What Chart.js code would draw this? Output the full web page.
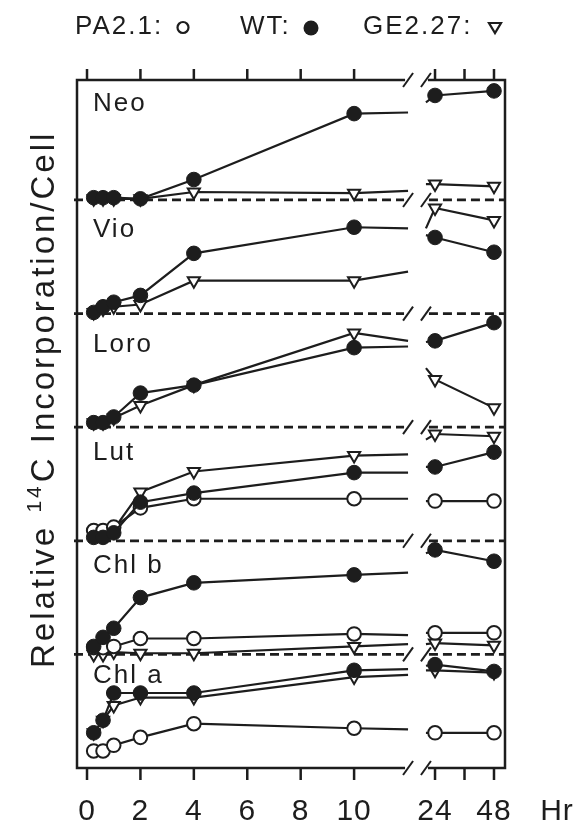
<!DOCTYPE html>
<html>
<head>
<meta charset="utf-8">
<script src="https://cdn.jsdelivr.net/npm/chart.js@4"></script>
<style>
  html, body { margin: 0; padding: 0; background: #fff; }
  canvas { display: block; }
</style>
</head>
<body>
<canvas id="incorpChart" width="574" height="822"></canvas>
<script>
// sampling times (hours)
const hours = [0.25, 0.6, 1, 2, 4, 10, 24, 48];
const tickHours = [0, 2, 4, 6, 8, 10, 24, 36, 48];
const tickLabels = ['0', '2', '4', '6', '8', '10', '24', '48'];

const panels = ['Neo', 'Vio', 'Loro', 'Lut', 'Chl b', 'Chl a'];
const panelOffsets = [500, 400, 300, 200, 100, 0];

// relative 14C incorporation, each panel on its own baseline (100 = one panel)
// *Cut = value where the line leaves 10 h / enters 24 h at the axis break
const neoWT = [2, 2, 2, 1, 18, 76, 92, 96];
const neoWTCut = [77, 86];
const neoGE = [1, 1, 1, 1, 7, 6, 14, 12];
const neoGECut = [8, 14];

const vioWT = [1, 6, 10, 16, 53, 76, 67, 54];
const vioWTCut = [75, 69];
const vioGE = [1, 4, 6, 8, 29, 29, 93, 82];
const vioGECut = [37, 75];

const loroWT = [4, 4, 9, 30, 37, 70, 76, 92];
const loroWTCut = [71, 75];
const loroGE = [4, 4, 8, 19, 37, 83, 42, 17];
const loroGECut = [76, 52];

const lutWT = [3, 3, 7, 34, 42, 60, 65, 78];
const lutWTCut = [60, 65];
const lutGE = [5, 5, 10, 43, 61, 75, 94, 92];
const lutGECut = [76, 89];
const lutPA = [9, 9, 12, 29, 37, 37, 35, 35];
const lutPACut = [37, 35];

const chlbWT = [7, 15, 23, 50, 63, 70, 92, 82];
const chlbWTCut = [72, 89];
const chlbGE = [0, 0, 2, 1, 1, 7, 10, 8];
const chlbGECut = [9, 9];
const chlbPA = [6, 6, 7, 14, 14, 18, 19, 19];
const chlbPACut = [17, 19];

const chlaWT = [31, 42, 66, 66, 66, 86, 91, 85];
const chlaWTCut = [87, 90];
const chlaGE = [31, 42, 55, 62, 62, 80, 86, 84];
const chlaGECut = [82, 86];
const chlaPA = [15, 15, 20, 27, 39, 35, 31, 31];
const chlaPACut = [34, 31];

// broken time axis: 0-12 h linear, then 24-48 h compressed
function hx(h) { return h <= 12 ? h : 13.03 + (h - 24) * 0.092; }
const CUT_L = 12.02, CUT_R = 12.69;

const ink = '#1d1d1d';
const FONT = "'Liberation Sans', Arial, Helvetica, sans-serif";
const labelLift = [78, 67, 66, 71, 72, 75];

const styles = {
    WT: { pointStyle: 'circle', bg: ink, r: 7.3, bw: 1, order: 0 },
    PA: { pointStyle: 'circle', bg: '#fff', r: 6.8, bw: 2, order: 1 },
    GE: { pointStyle: 'triangle', bg: '#fff', r: 7, bw: 2, order: 2 }
};

function series(label, vals, cut, offset, kind) {
    const s = styles[kind];
    const pts = [];
    for (let i = 0; i < 6; i++) pts.push({ x: hx(hours[i]), y: vals[i] + offset });
    pts.push({ x: CUT_L, y: cut[0] + offset });
    pts.push({ x: (CUT_L + CUT_R) / 2, y: null });
    pts.push({ x: CUT_R, y: cut[1] + offset });
    pts.push({ x: hx(hours[6]), y: vals[6] + offset });
    pts.push({ x: hx(hours[7]), y: vals[7] + offset });
    const radii = pts.map((p, i) => (i >= 6 && i <= 8) ? 0 : s.r);
    return {
        label: label,
        data: pts,
        borderColor: ink,
        borderWidth: 2.2,
        pointStyle: s.pointStyle,
        pointRotation: kind === 'GE' ? 180 : 0,
        pointRadius: radii,
        pointBackgroundColor: s.bg,
        pointBorderColor: ink,
        pointBorderWidth: s.bw,
        tension: 0,
        spanGaps: false,
        clip: false,
        order: s.order
    };
}

const datasets = [
    series('Neo WT', neoWT, neoWTCut, 500, 'WT'),
    series('Neo GE2.27', neoGE, neoGECut, 500, 'GE'),
    series('Vio WT', vioWT, vioWTCut, 400, 'WT'),
    series('Vio GE2.27', vioGE, vioGECut, 400, 'GE'),
    series('Loro WT', loroWT, loroWTCut, 300, 'WT'),
    series('Loro GE2.27', loroGE, loroGECut, 300, 'GE'),
    series('Lut WT', lutWT, lutWTCut, 200, 'WT'),
    series('Lut GE2.27', lutGE, lutGECut, 200, 'GE'),
    series('Lut PA2.1', lutPA, lutPACut, 200, 'PA'),
    series('Chl b WT', chlbWT, chlbWTCut, 100, 'WT'),
    series('Chl b GE2.27', chlbGE, chlbGECut, 100, 'GE'),
    series('Chl b PA2.1', chlbPA, chlbPACut, 100, 'PA'),
    series('Chl a WT', chlaWT, chlaWTCut, 0, 'WT'),
    series('Chl a GE2.27', chlaGE, chlaGECut, 0, 'GE'),
    series('Chl a PA2.1', chlaPA, chlaPACut, 0, 'PA')
];

function slash(ctx, cx, cy) {
    ctx.beginPath();
    ctx.moveTo(cx - 5, cy + 7);
    ctx.lineTo(cx + 5, cy - 7);
    ctx.stroke();
}

// frame, broken axes, dashed baselines, labels
const decorations = {
    id: 'decorations',
    beforeDatasetsDraw(chart) {
        const { ctx, chartArea: a, scales: { x, y } } = chart;
        const bl = x.getPixelForValue(CUT_L), br = x.getPixelForValue(CUT_R);
        ctx.save();
        ctx.strokeStyle = ink;
        ctx.fillStyle = ink;
        ctx.lineWidth = 2.5;

        ctx.beginPath();
        ctx.moveTo(bl - 3, a.top); ctx.lineTo(a.left, a.top);
        ctx.lineTo(a.left, a.bottom); ctx.lineTo(bl - 3, a.bottom);
        ctx.moveTo(br + 2, a.top); ctx.lineTo(a.right, a.top);
        ctx.lineTo(a.right, a.bottom); ctx.lineTo(br + 2, a.bottom);
        ctx.stroke();

        // ticks top and bottom
        ctx.beginPath();
        tickHours.forEach(h => {
            const px = x.getPixelForValue(hx(h));
            ctx.moveTo(px, a.top); ctx.lineTo(px, a.top - 11);
            ctx.moveTo(px, a.bottom); ctx.lineTo(px, a.bottom + 12);
        });
        ctx.stroke();

        ctx.lineWidth = 2;
        [a.top, a.bottom].forEach(py => { slash(ctx, bl, py); slash(ctx, br, py); });

        // dashed baselines
        panelOffsets.forEach(off => {
            if (off === 0) return;
            const py = y.getPixelForValue(off);
            ctx.save();
            ctx.lineWidth = 2.8;
            ctx.setLineDash([9, 5]);
            ctx.beginPath();
            ctx.moveTo(a.left - 3, py); ctx.lineTo(bl - 4, py);
            ctx.moveTo(br + 3, py); ctx.lineTo(a.right, py);
            ctx.stroke();
            ctx.restore();
            slash(ctx, bl, py); slash(ctx, br, py);
        });

        // tick labels
        ctx.font = '30px ' + FONT;
        ctx.letterSpacing = '1px';
        ctx.textAlign = 'center';
        ctx.textBaseline = 'alphabetic';
        tickLabels.forEach(t => {
            ctx.fillText(t, x.getPixelForValue(hx(Number(t))), a.bottom + 52);
        });
        ctx.fillText('Hr', a.right + 52, a.bottom + 52);

        // panel names
        ctx.font = '26px ' + FONT;
        ctx.letterSpacing = '2px';
        ctx.textAlign = 'left';
        panels.forEach((p, i) => {
            ctx.fillText(p, a.left + 16, y.getPixelForValue(panelOffsets[i] + labelLift[i]));
        });

        // legend
        ctx.fillText('PA2.1:', 75, 34);
        ctx.fillText('WT:', 240, 34);
        ctx.fillText('GE2.27:', 363, 34);
        ctx.lineWidth = 2.2;
        ctx.beginPath(); ctx.arc(183, 27.5, 5.5, 0, Math.PI * 2); ctx.stroke();
        ctx.beginPath(); ctx.arc(311, 28, 7.5, 0, Math.PI * 2); ctx.fill();
        ctx.beginPath();
        ctx.moveTo(489, 23); ctx.lineTo(501, 23); ctx.lineTo(495, 33); ctx.closePath();
        ctx.stroke();

        // y title, rotated
        ctx.save();
        ctx.translate(54, 668);
        ctx.rotate(-Math.PI / 2);
        ctx.font = '33px ' + FONT;
        ctx.letterSpacing = '3px';
        let cx = 0;
        ctx.fillText('Relative ', cx, 0);
        cx += ctx.measureText('Relative ').width;
        ctx.font = '21px ' + FONT;
        ctx.fillText('14', cx, -13);
        cx += ctx.measureText('14').width + 1;
        ctx.font = '33px ' + FONT;
        ctx.fillText('C Incorporation/Cell', cx, 0);
        ctx.restore();

        ctx.restore();
    }
};

new Chart(document.getElementById('incorpChart'), {
    type: 'line',
    data: { datasets: datasets },
    options: {
        responsive: false,
        animation: false,
        layout: { padding: { left: 77, right: 69, top: 80, bottom: 54 } },
        scales: {
            x: { type: 'linear', min: -0.375, max: 15.65, display: false },
            y: { type: 'linear', min: 0, max: 605.6, display: false }
        },
        plugins: {
            legend: { display: false },
            tooltip: { enabled: false }
        }
    },
    plugins: [decorations]
});
</script>
</body>
</html>
